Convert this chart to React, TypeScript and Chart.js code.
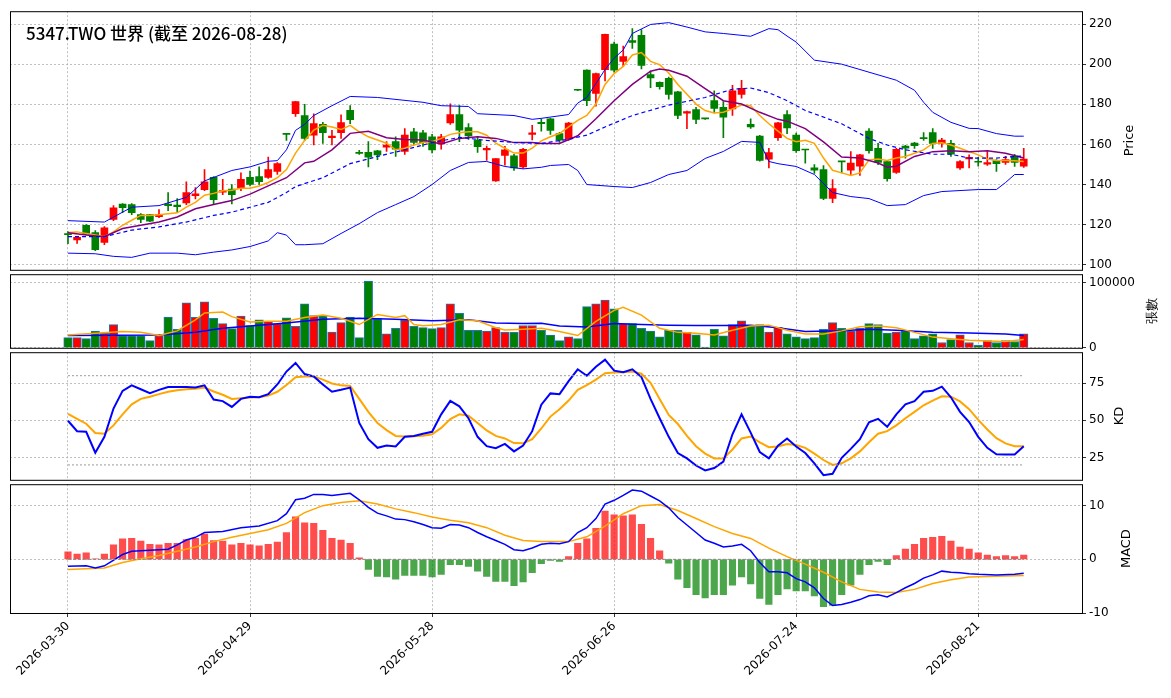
import React, { useEffect, useRef } from 'react';
import { Chart, registerables } from 'chart.js';

Chart.register(...registerables);

// ---- data ----
const tickIdx = [0, 20, 40, 60, 80, 100];
const tickLabels = ['2026-03-30', '2026-04-29', '2026-05-28', '2026-06-26', '2026-07-24', '2026-08-21'];
const titleText = '5347.TWO 世界 (截至 2026-08-28)';

const opens = [115.5, 112.4, 119.7, 116, 111.2, 122.6, 130.2, 130, 125, 125, 124, 130.3, 129.8, 130.8, 134.4, 137.4, 143.6, 136.2, 137.7, 138.2, 143.6, 144, 143.6, 146.5, 165.3, 175.3, 174.4, 164.6, 170, 163.3, 165.8, 177, 156, 156, 156.8, 158.6, 161.4, 156.5, 166.3, 165.8, 163.8, 160.2, 170.7, 174.9, 168.4, 162.2, 157.3, 141.8, 154.5, 154.3, 148.8, 165, 171, 172.8, 165.4, 162.6, 187.2, 197, 185.4, 197.3, 210, 201.4, 211.7, 214.4, 194.8, 191, 193, 186.2, 175.6, 177.4, 172.9, 181.8, 178.5, 177.7, 184.9, 170, 164.1, 152.7, 163.3, 174.9, 164.6, 157.5, 148.3, 147.4, 133.1, 151.5, 147.1, 149.1, 166.6, 158.1, 151.5, 146.1, 159.2, 160.7, 163.1, 165.9, 160.5, 160.5, 148.3, 152.8, 151.3, 150.2, 152, 151, 154, 149.1];
const highs = [116.5, 114, 120, 117, 119, 129.5, 130.5, 130.5, 125.5, 125, 127.5, 136, 133, 141.3, 138.5, 147.5, 144, 142.6, 140, 145.8, 146.7, 148.8, 153.7, 151, 165.3, 181.5, 180, 175.3, 171, 167, 174.8, 179.3, 157, 161.4, 157, 161.4, 163.8, 167.9, 168, 167, 165, 165, 180.2, 179.3, 170.4, 164, 159.2, 153, 159, 155, 158, 169.5, 172.8, 173, 166, 171, 187.2, 197.2, 195.5, 215, 211, 209, 217.7, 217.2, 196.5, 191.2, 193.5, 186.5, 176.6, 178.5, 173, 186.7, 181.3, 189.4, 191.9, 172.8, 164.5, 158, 171, 176.9, 165.7, 157.6, 149.9, 149.4, 142.5, 151.6, 156.4, 155, 167.9, 160.5, 152, 158, 159.5, 161, 165.9, 167.9, 163, 162, 152, 154.8, 153.6, 156.8, 152.5, 154, 155, 158];
const lows = [110.5, 110.7, 115, 107, 110, 122, 126, 125, 121, 121.5, 123.5, 127, 126.3, 130, 132.8, 137, 130.5, 135, 130.3, 137, 139.3, 140, 143, 145, 162, 174, 162, 159.7, 160.5, 159.7, 163, 170.4, 155, 148.8, 152.4, 156.5, 154, 155, 159.7, 159, 155.7, 157.6, 170, 161.4, 162.5, 156, 152, 141.5, 149.6, 147, 148, 162.2, 166.6, 165, 161, 162, 186.8, 179.3, 179, 191.6, 196, 199, 207.9, 197.6, 188.3, 187.5, 182.6, 172.8, 167.9, 170.3, 172.5, 175.7, 163.3, 174.4, 183, 168, 151.6, 148.3, 162, 165.4, 156, 150.7, 145.5, 132.5, 131, 145.8, 145, 144.5, 155.6, 149.9, 141.7, 145.5, 153.2, 158, 162, 158, 158.6, 154, 147.5, 148.3, 149.1, 149.5, 146.6, 150, 149, 148.5];
const closes = [115, 113.7, 115.3, 107.5, 118.4, 128.4, 128.5, 126, 122.6, 121.7, 125, 129.5, 129, 136, 135.4, 141.4, 132.5, 137, 135, 142.6, 140.1, 141.4, 147.5, 150.4, 165, 181.3, 163, 170.4, 165.8, 164.2, 170.9, 172.3, 155.5, 153.7, 154.8, 159.7, 157.6, 164.6, 161, 160.9, 157.3, 163.8, 174.9, 167.1, 164.2, 158.9, 158.1, 152.9, 157.3, 148.3, 157.6, 165.8, 170.4, 167, 162.1, 170.6, 187, 181.8, 195.3, 214.9, 197, 203.8, 210.8, 199.4, 193.2, 188.8, 184.9, 174.4, 176.4, 172.4, 172.7, 178, 173.6, 186.7, 188, 168.7, 152, 155.9, 170.8, 168.2, 156.9, 157.2, 147.1, 133.1, 138, 151.3, 150.7, 154.8, 156.9, 151, 142.9, 157.6, 158.1, 159.4, 162.9, 160.5, 162.2, 155.1, 151.5, 153.6, 151.1, 151, 150.4, 152.4, 151, 152.7];

const ma5 = [[0, 116.1], [1, 116.4], [3, 114.8], [4, 114], [5, 116.4], [6, 119.7], [7, 122.2], [8, 124.6], [9, 124.6], [10, 124.9], [11, 125.4], [12, 125.9], [13, 128.7], [14, 131.1], [15, 134.7], [16, 135.6], [17, 136.9], [18, 137.2], [19, 138.2], [20, 138.2], [21, 139.3], [22, 141], [23, 143.4], [24, 147.5], [25, 155.7], [26, 162], [27, 167.1], [28, 169.5], [29, 168.7], [30, 167.4], [31, 169.5], [32, 166.3], [33, 163.8], [34, 162.2], [35, 160.6], [36, 157.3], [37, 158.1], [38, 159.7], [39, 160.9], [40, 161.4], [41, 163], [42, 165], [43, 165.8], [44, 166.3], [45, 166.3], [46, 164.6], [47, 160.6], [48, 158.1], [49, 155.7], [50, 155.7], [51, 158.1], [52, 161.8], [53, 163.8], [54, 165.4], [55, 168.7], [56, 172], [57, 174.4], [58, 180.1], [59, 189.9], [60, 195.3], [61, 198.9], [62, 204.6], [63, 205.8], [64, 201.4], [65, 199.7], [66, 195.6], [67, 189.9], [68, 185], [69, 180.1], [70, 176.9], [71, 175.7], [72, 176], [73, 177.7], [74, 179.6], [75, 179.3], [76, 174.4], [77, 170.3], [78, 166.6], [79, 163], [80, 161.3], [81, 162.1], [82, 160.5], [83, 153.2], [84, 147.1], [85, 145.8], [86, 144.5], [87, 145.8], [88, 152.3], [89, 152.7], [90, 152], [91, 153.2], [92, 154], [93, 155.6], [94, 157.3], [95, 160.5], [96, 160.8], [97, 159.7], [98, 158.1], [99, 156.4], [100, 154.8], [101, 152.7], [102, 152], [103, 152], [104, 151.9], [105, 151.5]];
const ma10 = [[0, 116], [2, 114.8], [4, 114], [6, 118.1], [8, 119.7], [10, 121.3], [12, 123.8], [14, 127.9], [16, 130], [18, 132], [20, 135.2], [22, 139.3], [24, 143.4], [26, 150.8], [27, 151.6], [29, 157.3], [31, 165.5], [33, 166.6], [35, 163.3], [37, 162.5], [39, 162.2], [41, 160.2], [43, 163], [45, 163.8], [47, 163], [49, 160.9], [51, 160.9], [52, 160.5], [54, 160.5], [56, 164.3], [58, 172.8], [60, 181.8], [62, 189.9], [64, 196.5], [65, 197.6], [66, 197], [68, 194], [70, 187.8], [72, 181.8], [74, 180.1], [76, 176], [78, 172.5], [79, 171.6], [81, 167.9], [83, 161.3], [85, 153.7], [87, 153.2], [89, 150.7], [90, 148.6], [91, 149.1], [93, 154], [95, 156.4], [97, 156.9], [99, 156.4], [101, 156.8], [103, 155.6], [105, 153.2]];
const ma20 = [[0, 114], [4, 114], [7, 117.3], [10, 118.9], [13, 121.3], [16, 124.6], [18, 126.2], [20, 128.7], [22, 131.1], [24, 136], [25, 139], [28, 143.4], [31, 150.4], [34, 154], [37, 157.3], [40, 160.9], [43, 163.5], [46, 162], [49, 161], [52, 160.5], [55, 162.6], [57, 164.6], [59, 168.7], [62, 174.4], [66, 179.6], [70, 183.4], [73, 187.5], [75, 188.1], [77, 185.8], [79, 181.8], [81, 176.9], [85, 170.3], [88, 163], [90, 159.7], [92, 157.3], [95, 155.1], [97, 155.1], [99, 153.2], [102, 153.2], [105, 154.3]];
const bbUpper = [[0, 122], [4, 121.3], [7, 128.7], [10, 129.5], [13, 133.6], [15, 141.8], [18, 147], [20, 148.8], [22, 151.6], [23, 151.9], [24, 157.3], [25, 167], [26, 170], [27, 174.4], [29, 179.3], [31, 183.9], [34, 183.4], [39, 181], [41, 179.3], [44, 178.9], [45, 175.3], [49, 174.4], [51, 172.5], [52, 173], [55, 174.9], [56, 180.6], [57, 183.4], [59, 197.3], [60, 203], [61, 207.1], [62, 215.3], [64, 219.8], [66, 220.7], [68, 218.5], [70, 216.1], [72, 215.3], [75, 213.9], [77, 217.7], [78, 217.2], [79, 214], [80, 211], [82, 202], [85, 200], [88, 196], [91, 192], [93, 187], [94, 181], [95, 176], [97, 171], [99, 168], [100, 167.9], [102, 165.4], [104, 164.1], [105, 164.1]];
const bbLower = [[0, 105.8], [3, 105.5], [5, 104.2], [7, 103.7], [9, 105.8], [12, 105.8], [14, 105], [16, 106.3], [18, 107.4], [20, 109.1], [22, 111.9], [23, 116], [24, 114.8], [25, 110], [26, 110], [28, 110.5], [30, 115.6], [32, 120.5], [34, 126], [36, 130], [38, 134], [40, 140], [42, 147], [44, 151], [46, 151.5], [48, 149], [50, 147.8], [52, 148.6], [53, 149.5], [55, 150], [56, 147], [57, 140], [60, 139], [62, 138.5], [64, 141], [66, 145], [68, 147], [70, 153], [72, 156.5], [74, 161.5], [76, 161], [77, 151.5], [78, 150.4], [80, 149], [82, 145], [84, 136], [86, 134], [88, 133], [90, 129.5], [92, 130], [94, 134.5], [96, 136.5], [98, 137], [100, 137.5], [102, 137.5], [103, 141], [104, 145], [105, 145]];

const volumes = [15.5, 15.5, 14, 25.6, 22.7, 35.7, 18.4, 18.4, 18.4, 11.1, 18.4, 47.3, 28.5, 69, 46.9, 70.5, 45.4, 37.2, 29.5, 48.8, 34.3, 43, 40.6, 36.7, 45.9, 32.8, 67.6, 49.3, 48.8, 24.2, 38.6, 47.3, 15.5, 102.4, 44.4, 21.3, 29.9, 42, 32.8, 30.9, 29.5, 30.9, 67.6, 53.1, 27, 27, 25.6, 30.9, 23.7, 23.7, 34.3, 34.3, 27, 19.5, 11.1, 16.9, 14, 63.3, 67.6, 73.4, 59.9, 37.2, 37.2, 29.9, 25.6, 16.9, 27, 27, 23.7, 19.8, 1, 28.5, 18.4, 35.7, 41.5, 34.3, 35.7, 24.2, 31.4, 21.3, 16.9, 14, 15.5, 28.5, 38.6, 29.9, 25.6, 29.9, 37.2, 35.7, 22.7, 24.2, 25.6, 14, 18.4, 21.3, 8.2, 12.6, 19.8, 8.2, 3.9, 11.1, 8.2, 11.1, 9.7, 21.3].map((v) => v * 1000);
const volMa5 = [[0, 19.8], [6, 25], [8, 23.7], [10, 18.8], [12, 26], [14, 43], [15, 53.6], [17, 55], [18, 47.8], [20, 39.6], [22, 40.6], [24, 40.6], [26, 46.4], [28, 50.2], [30, 45.4], [32, 35.7], [34, 51.2], [36, 46.4], [37, 49.3], [38, 35.7], [39, 33.8], [41, 35.7], [43, 43], [45, 41.5], [47, 30.9], [48, 27.5], [50, 28.5], [52, 29.9], [54, 25], [56, 18.8], [58, 40.6], [60, 57.5], [61, 62.3], [63, 50.2], [65, 29.9], [67, 23.7], [69, 22.2], [71, 19.8], [73, 27], [75, 33.3], [77, 34.8], [79, 27], [81, 21.3], [83, 21.3], [85, 26], [87, 32.4], [89, 33.3], [91, 30.9], [93, 23.7], [95, 16.4], [97, 14], [99, 11.6], [101, 10.6], [103, 9.7], [105, 12.6]];
const volMa20 = [[0, 18.8], [10, 19.8], [14, 23.7], [17, 30], [20, 33.3], [24, 38.2], [28, 44], [32, 45.4], [36, 44], [40, 41.5], [44, 43], [47, 38.2], [50, 37.2], [52, 37.5], [54, 33.3], [57, 31.9], [60, 37.2], [63, 35.7], [66, 34.8], [69, 34.3], [72, 34.3], [75, 34.8], [78, 30.9], [81, 25.1], [85, 26], [88, 28.5], [91, 27], [95, 23.7], [99, 22.7], [103, 21.3], [105, 18.8]];

const kValues = [49.7, 42.7, 42.3, 28.2, 38.9, 57.9, 69.8, 73.5, 70.9, 68.3, 70.5, 72.4, 72.4, 72.4, 72, 73.5, 64, 62.9, 59, 64.4, 65.9, 65.5, 67.6, 74.1, 82.8, 88.6, 81.1, 79.5, 74.1, 69.2, 70.5, 72, 48.2, 37.3, 31.5, 33, 32.4, 38.9, 39.5, 41, 42.3, 54, 63.1, 59.4, 51.4, 38.9, 32.6, 31.3, 34.1, 29.1, 33, 42.7, 60.5, 68.1, 67.6, 76.3, 84.3, 80, 86, 90.8, 83.4, 82.4, 84.3, 79.1, 64.4, 51.4, 38.9, 28, 24.4, 19.6, 16.3, 17.9, 22.2, 40.6, 54, 41.7, 28.7, 24.4, 33, 37.8, 32.4, 28, 21.1, 13.1, 14, 24.8, 30.8, 37.3, 48.6, 51, 45.6, 54, 60.7, 62.9, 69.2, 69.8, 72.6, 65.5, 55.7, 48.8, 38.9, 31.5, 27.2, 27, 27, 32.6];
const dValues = [54.4, 51, 47.7, 41.5, 41, 46.6, 54, 60.7, 64.4, 65.9, 67.6, 69.2, 70.2, 70.9, 71.3, 72, 69.4, 67.2, 64.4, 64.8, 65.3, 65.5, 66.6, 69.2, 73.7, 78.9, 79.5, 79.5, 77.4, 74.8, 73.5, 73.1, 64.4, 55.7, 48.2, 43.4, 39.5, 39.1, 39.3, 39.7, 40.6, 44.9, 50.8, 54, 53.1, 48.2, 43.2, 39.5, 37.8, 34.7, 34.5, 37.3, 44.5, 52.5, 57.5, 63.3, 70.5, 73.7, 77.4, 81.7, 82.1, 82.4, 82.8, 81.3, 75.2, 64.4, 53.6, 47.5, 39.5, 32.6, 27.6, 24.4, 24.4, 30.4, 37.8, 39.1, 35.2, 31.9, 32.4, 34.1, 33.4, 31.5, 27.6, 23.3, 20, 21.1, 24.4, 29.1, 35.2, 41, 42.7, 46.6, 51.4, 55.7, 60.1, 63.3, 66.1, 65.9, 62.7, 57.5, 50.3, 43.8, 38, 34.5, 32.6, 32.6];

const macdHist = [1.4, 1.0, 1.2, 0.1, 1.0, 2.7, 3.8, 3.9, 3.4, 2.8, 2.7, 3.0, 3.0, 3.7, 3.9, 4.7, 3.5, 3.4, 2.7, 3.0, 2.7, 2.5, 2.8, 3.2, 5.0, 7.9, 6.8, 6.7, 5.4, 3.9, 3.6, 3.0, 0.3, -1.9, -3.2, -3.3, -3.7, -3.0, -3.0, -3.0, -3.3, -2.8, -1.0, -1.0, -1.3, -2.2, -3.2, -4.1, -4.1, -4.9, -4.2, -2.5, -0.8, -0.2, -0.4, 0.5, 3.0, 3.8, 5.8, 9.0, 8.3, 8.1, 8.3, 6.5, 3.9, 1.6, -0.7, -3.7, -5.3, -6.6, -7.2, -6.6, -6.6, -4.8, -3.3, -4.6, -7.3, -8.4, -6.6, -5.5, -5.9, -5.9, -6.8, -8.8, -8.6, -6.6, -4.8, -2.8, -1.0, -0.4, -1.0, 0.7, 1.9, 2.8, 3.9, 4.1, 4.3, 3.4, 2.3, 1.9, 1.2, 0.8, 0.5, 0.7, 0.5, 0.8];
const macdDif = [[0, -1.3], [2, -1.2], [3, -1.6], [4, -1.2], [6, 0.9], [7, 1.5], [9, 1.7], [11, 1.9], [12, 2.7], [13, 3.6], [14, 4.1], [15, 5.0], [17, 5.2], [19, 5.9], [21, 6.2], [23, 7.2], [24, 8.5], [25, 11.1], [26, 11.4], [27, 12.1], [28, 12.1], [29, 11.9], [31, 12.3], [32, 11.1], [33, 9.7], [34, 8.6], [35, 8.1], [36, 7.5], [37, 7.4], [38, 7.0], [39, 6.5], [40, 5.9], [41, 5.8], [42, 6.5], [43, 6.4], [44, 5.9], [45, 5.0], [46, 4.2], [47, 3.5], [48, 2.8], [49, 1.8], [50, 1.6], [51, 2.1], [52, 2.8], [53, 3.0], [54, 2.9], [55, 3.3], [56, 5.0], [57, 5.9], [58, 7.6], [59, 10.3], [60, 11.0], [61, 11.9], [62, 12.9], [63, 12.7], [64, 11.8], [65, 10.9], [66, 9.6], [67, 7.8], [68, 6.4], [69, 5.0], [70, 3.6], [71, 3.0], [72, 2.3], [73, 2.5], [74, 2.8], [75, 1.6], [76, -0.6], [77, -2.3], [78, -2.3], [79, -2.5], [80, -3.6], [81, -4.2], [82, -5.3], [83, -7.3], [84, -8.6], [85, -8.4], [86, -8.0], [87, -7.5], [88, -6.8], [89, -6.6], [90, -7.0], [91, -6.2], [92, -5.3], [93, -4.5], [94, -3.5], [95, -2.9], [96, -2.2], [97, -2.4], [98, -2.5], [99, -2.7], [100, -2.8], [102, -2.9], [104, -2.8], [105, -2.6]];
const macdSignal = [[0, -1.9], [4, -1.6], [6, -0.6], [8, 0.1], [10, 0.7], [12, 1.5], [14, 2.3], [16, 3.3], [18, 4.1], [20, 4.8], [22, 5.5], [24, 6.7], [26, 8.7], [28, 10], [30, 10.6], [32, 10.9], [34, 10.3], [36, 9.4], [38, 8.7], [40, 7.9], [42, 7.3], [44, 6.8], [46, 5.9], [48, 4.5], [50, 3.5], [52, 3.3], [55, 3.3], [57, 4.2], [59, 6.2], [61, 8.5], [63, 10], [65, 10.2], [67, 9.1], [69, 7.6], [71, 6.1], [73, 4.8], [75, 3.9], [77, 2.1], [79, 0.5], [81, -0.9], [83, -2.4], [85, -4.2], [87, -5.6], [89, -6.1], [91, -6.2], [93, -5.6], [95, -4.5], [97, -3.8], [99, -3.3], [101, -3.2], [103, -3.1], [105, -3.0]];

// ---- helpers ----
const UP = '#ff0000';
const DOWN = '#008000';
const FONT = 'DejaVu Sans, sans-serif';
const lastIdx = closes.length - 1;
const candleColors = closes.map((c, i) => (c >= opens[i] ? UP : DOWN));
const pts = (pairs: number[][]) => pairs.map(([x, y]) => ({ x, y }));
const seq = (vals: number[]) => vals.map((y, x) => ({ x, y }));

const line = (data: any[], color: string, width: number, dash: number[] = []) => ({
  type: 'line' as const,
  data,
  borderColor: color,
  borderWidth: width,
  borderDash: dash,
  pointRadius: 0,
  tension: 0,
  order: 0,
});

// frame, title and right-side axis name
const decorPlugin = {
  id: 'decor',
  afterDraw(chart: any, _args: any, opts: any) {
    const { ctx, chartArea: a } = chart;
    ctx.save();
    ctx.strokeStyle = '#000';
    ctx.lineWidth = 1;
    ctx.strokeRect(a.left + 0.5, a.top + 0.5, a.right - a.left, a.bottom - a.top);
    if (opts.title) {
      ctx.fillStyle = '#000';
      ctx.font = '500 17px "Noto Sans CJK TC", sans-serif';
      ctx.textBaseline = 'middle';
      ctx.fillText(opts.title, a.left + 16, a.top + 22);
    }
    if (opts.yLabel) {
      ctx.translate(opts.yLabelX, (a.top + a.bottom) / 2);
      ctx.rotate(-Math.PI / 2);
      ctx.fillStyle = '#000';
      ctx.font = `13px ${FONT}`;
      ctx.textAlign = 'center';
      ctx.textBaseline = 'middle';
      ctx.fillText(opts.yLabel, 0, 0);
    }
    ctx.restore();
  },
};

const gridStyle = { color: '#b0b0b0', lineWidth: 0.8, tickColor: '#000', tickLength: 4, offset: false };

function buildOptions(p: {
  yMin: number; yMax: number; yTicks: number[]; showX: boolean; xHeight: number;
  padBottom: number; yLabel: string; yLabelX: number; title?: string;
}): any {
  return {
    responsive: true,
    maintainAspectRatio: false,
    animation: false,
    layout: { padding: { top: 8, bottom: p.padBottom, left: 10, right: 0 } },
    plugins: {
      legend: { display: false },
      tooltip: { enabled: false },
      decor: { title: p.title, yLabel: p.yLabel, yLabelX: p.yLabelX },
    },
    scales: {
      x: {
        type: 'linear',
        min: -6.37,
        max: 111.4,
        offset: false,
        grid: { ...gridStyle, drawTicks: p.showX },
        border: { display: false, dash: [2, 2] },
        afterBuildTicks: (s: any) => { s.ticks = tickIdx.map((v) => ({ value: v })); },
        afterFit: (s: any) => { s.height = p.xHeight; },
        ticks: {
          display: p.showX,
          maxRotation: 45,
          minRotation: 45,
          padding: 2,
          color: '#000',
          font: { family: FONT, size: 12 },
          callback: (v: number) => tickLabels[tickIdx.indexOf(v)] ?? '',
        },
      },
      y: {
        position: 'right',
        min: p.yMin,
        max: p.yMax,
        grid: { ...gridStyle },
        border: { display: false, dash: [2, 2] },
        afterBuildTicks: (s: any) => { s.ticks = p.yTicks.map((v) => ({ value: v })); },
        afterFit: (s: any) => { s.width = 89; },
        ticks: { color: '#000', padding: 3, font: { family: FONT, size: 12 }, callback: (v: number) => String(v) },
      },
    },
  };
}

const App: React.FC = () => {
  const priceRef = useRef<HTMLCanvasElement>(null);
  const volRef = useRef<HTMLCanvasElement>(null);
  const kdRef = useRef<HTMLCanvasElement>(null);
  const macdRef = useRef<HTMLCanvasElement>(null);

  useEffect(() => {
    const charts: Chart[] = [];

    charts.push(new Chart(priceRef.current!, {
      type: 'bar',
      data: {
        datasets: [
          line(pts(bbUpper), '#0000ff', 1),
          line(pts(bbLower), '#0000ff', 1),
          line(pts(ma20), '#0000ff', 1.2, [4, 3]),
          line(pts(ma10), '#800080', 1.5),
          line(pts(ma5), '#ffa500', 1.5),
          {
            type: 'bar', data: opens.map((o, i) => ({ x: i, y: [o, closes[i]] })),
            backgroundColor: candleColors, barThickness: 7, minBarLength: 1, grouped: false, order: 1,
          } as any,
          {
            type: 'bar', data: lows.map((l, i) => ({ x: i, y: [l, highs[i]] })),
            backgroundColor: candleColors, barThickness: 1, grouped: false, order: 2,
          } as any,
        ],
      },
      options: buildOptions({ yMin: 97.5, yMax: 226.4, yTicks: [100, 120, 140, 160, 180, 200, 220], showX: false, xHeight: 0, padBottom: 8, yLabel: 'Price', yLabelX: 1130, title: titleText }),
      plugins: [decorPlugin],
    }));

    charts.push(new Chart(volRef.current!, {
      type: 'bar',
      data: {
        datasets: [
          line(pts(volMa5).map((d) => ({ x: d.x, y: d.y * 1000 })), '#ffa500', 1.5),
          line(pts(volMa20).map((d) => ({ x: d.x, y: d.y * 1000 })), '#0000ff', 1.5),
          {
            type: 'bar', data: volumes.map((v, i) => ({ x: i, y: v })),
            backgroundColor: candleColors, borderColor: '#1f77b4', borderWidth: 1,
            barThickness: 8.5, grouped: false, order: 1,
          } as any,
        ],
      },
      options: buildOptions({ yMin: 0, yMax: 113000, yTicks: [0, 100000], showX: false, xHeight: 0, padBottom: 8, yLabel: '張數', yLabelX: 1153 }),
      plugins: [decorPlugin],
    }));

    charts.push(new Chart(kdRef.current!, {
      type: 'line',
      data: {
        datasets: [
          line([{ x: 0, y: 80 }, { x: lastIdx, y: 80 }], '#999999', 1, [2, 2]),
          line([{ x: 0, y: 20 }, { x: lastIdx, y: 20 }], '#999999', 1, [2, 2]),
          line(seq(kValues), '#0000ff', 2),
          line(seq(dValues), '#ffa500', 2),
        ],
      },
      options: buildOptions({ yMin: 10, yMax: 95.8, yTicks: [25, 50, 75], showX: false, xHeight: 0, padBottom: 8, yLabel: 'KD', yLabelX: 1120 }),
      plugins: [decorPlugin],
    }));

    charts.push(new Chart(macdRef.current!, {
      type: 'bar',
      data: {
        datasets: [
          line([{ x: 0, y: 0 }, { x: lastIdx, y: 0 }], '#888888', 1, [3, 2]),
          line(pts(macdDif), '#0000ff', 1.5),
          line(pts(macdSignal), '#ffa500', 1.5),
          {
            type: 'bar', data: seq(macdHist),
            backgroundColor: macdHist.map((v) => (v >= 0 ? 'rgba(255,0,0,0.7)' : 'rgba(0,128,0,0.7)')),
            barThickness: 6.5, grouped: false, order: 1,
          } as any,
        ],
      },
      options: buildOptions({ yMin: -10, yMax: 14, yTicks: [-10, 0, 10], showX: true, xHeight: 85, padBottom: 0, yLabel: 'MACD', yLabelX: 1127 }),
      plugins: [decorPlugin],
    }));

    return () => { charts.forEach((c) => c.destroy()); };
  }, []);

  const box = (top: number, height: number): React.CSSProperties => ({
    position: 'absolute', left: 0, top, width: 1171, height,
  });

  return (
    <div style={{ position: 'absolute', left: 0, top: 0, width: 1171, height: 698, background: '#fff' }}>
      <div style={box(1, 279)}><canvas ref={priceRef} /></div>
      <div style={box(264, 94)}><canvas ref={volRef} /></div>
      <div style={box(342, 148)}><canvas ref={kdRef} /></div>
      <div style={box(474, 224)}><canvas ref={macdRef} /></div>
    </div>
  );
};

export default App;
